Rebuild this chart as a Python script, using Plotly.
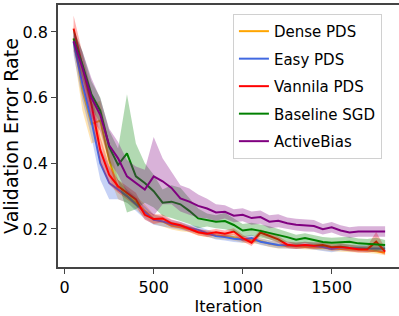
import plotly.graph_objects as go

iterations = [50, 100, 150, 200, 250, 300, 350, 400, 450, 500, 550, 600, 650, 700, 750, 800, 850, 900,
              950, 1000, 1050, 1100, 1150, 1200, 1250, 1300, 1350, 1400, 1450, 1500, 1550, 1600, 1650, 1700, 1750, 1800]

dense_pds = [0.78, 0.62, 0.52, 0.53, 0.41, 0.32, 0.30, 0.28, 0.255, 0.23, 0.222, 0.21, 0.205, 0.20, 0.19, 0.185, 0.18, 0.178,
             0.175, 0.168, 0.165, 0.163, 0.155, 0.15, 0.148, 0.147, 0.146, 0.144, 0.143, 0.14, 0.139, 0.138, 0.136, 0.135, 0.132, 0.128]
dense_std = [0.04, 0.06, 0.06, 0.06, 0.05, 0.03, 0.02, 0.02, 0.02, 0.015, 0.015, 0.012, 0.012, 0.01, 0.01, 0.01, 0.01, 0.01,
             0.01, 0.01, 0.01, 0.01, 0.01, 0.01, 0.008, 0.008, 0.008, 0.008, 0.008, 0.008, 0.008, 0.008, 0.008, 0.008, 0.008, 0.008]

easy_pds = [0.77, 0.64, 0.53, 0.40, 0.34, 0.32, 0.30, 0.275, 0.25, 0.228, 0.223, 0.215, 0.21, 0.203, 0.197, 0.187, 0.178, 0.175,
            0.17, 0.168, 0.172, 0.161, 0.157, 0.151, 0.15, 0.149, 0.151, 0.148, 0.145, 0.139, 0.144, 0.142, 0.14, 0.14, 0.14, 0.14]
easy_std = [0.04, 0.05, 0.05, 0.05, 0.05, 0.03, 0.02, 0.02, 0.02, 0.015, 0.015, 0.012, 0.012, 0.01, 0.01, 0.01, 0.01, 0.01,
            0.01, 0.01, 0.01, 0.01, 0.01, 0.01, 0.01, 0.01, 0.01, 0.01, 0.012, 0.01, 0.01, 0.01, 0.01, 0.01, 0.01, 0.01]

vannila_pds = [0.81, 0.69, 0.58, 0.44, 0.365, 0.33, 0.31, 0.29, 0.243, 0.23, 0.232, 0.217, 0.211, 0.20, 0.19, 0.185, 0.19, 0.185,
               0.192, 0.172, 0.158, 0.189, 0.179, 0.168, 0.152, 0.149, 0.151, 0.149, 0.151, 0.144, 0.146, 0.142, 0.138, 0.138, 0.161, 0.131]
vannila_std = [0.04, 0.04, 0.04, 0.04, 0.03, 0.02, 0.02, 0.02, 0.015, 0.015, 0.012, 0.012, 0.01, 0.01, 0.01, 0.01, 0.01, 0.01,
               0.01, 0.01, 0.01, 0.01, 0.01, 0.01, 0.01, 0.01, 0.01, 0.01, 0.01, 0.01, 0.01, 0.01, 0.01, 0.01, 0.03, 0.01]

baseline_sgd = [0.78, 0.70, 0.61, 0.56, 0.45, 0.395, 0.43, 0.36, 0.34, 0.315, 0.28, 0.283, 0.275, 0.255, 0.232, 0.227, 0.222, 0.224,
                0.212, 0.195, 0.199, 0.194, 0.188, 0.18, 0.175, 0.167, 0.172, 0.166, 0.16, 0.158, 0.159, 0.161, 0.156, 0.154, 0.153, 0.151]
baseline_std = [0.03, 0.04, 0.04, 0.04, 0.05, 0.05, 0.18, 0.10, 0.06, 0.05, 0.04, 0.05, 0.05, 0.04, 0.03, 0.02, 0.02, 0.025,
                0.02, 0.02, 0.02, 0.02, 0.02, 0.02, 0.015, 0.015, 0.015, 0.015, 0.015, 0.015, 0.015, 0.015, 0.015, 0.015, 0.02, 0.015]

active_bias = [0.772, 0.69, 0.60, 0.547, 0.455, 0.415, 0.36, 0.34, 0.32, 0.36, 0.345, 0.325, 0.293, 0.283, 0.27, 0.262, 0.25, 0.252,
               0.24, 0.243, 0.233, 0.236, 0.222, 0.225, 0.217, 0.213, 0.21, 0.209, 0.199, 0.205, 0.195, 0.189, 0.192, 0.191, 0.192, 0.192]
active_std = [0.03, 0.05, 0.06, 0.05, 0.05, 0.05, 0.05, 0.05, 0.06, 0.12, 0.07, 0.05, 0.04, 0.04, 0.035, 0.03, 0.025, 0.02,
              0.02, 0.02, 0.02, 0.02, 0.02, 0.02, 0.018, 0.018, 0.018, 0.018, 0.016, 0.016, 0.016, 0.016, 0.016, 0.016, 0.016, 0.016]

series = [
    ("Dense PDS", dense_pds, dense_std, "#FFA500", "rgba(255,165,0,0.3)"),
    ("Easy PDS", easy_pds, easy_std, "#4169E1", "rgba(65,105,225,0.3)"),
    ("Vannila PDS", vannila_pds, vannila_std, "#FF0000", "rgba(255,0,0,0.3)"),
    ("Baseline SGD", baseline_sgd, baseline_std, "#008000", "rgba(0,128,0,0.3)"),
    ("ActiveBias", active_bias, active_std, "#800080", "rgba(128,0,128,0.3)"),
]

fig = go.Figure()
for name, vals, std, color, fill in series:
    upper = [v + s for v, s in zip(vals, std)]
    lower = [v - s for v, s in zip(vals, std)]
    fig.add_trace(go.Scatter(x=iterations, y=upper, mode="lines", line=dict(width=0),
                             showlegend=False, hoverinfo="skip", legendgroup=name))
    fig.add_trace(go.Scatter(x=iterations, y=lower, mode="lines", line=dict(width=0),
                             fill="tonexty", fillcolor=fill, showlegend=False,
                             hoverinfo="skip", legendgroup=name))
    fig.add_trace(go.Scatter(x=iterations, y=vals, mode="lines", name=name,
                             line=dict(color=color, width=2), legendgroup=name))

axis_font = dict(family="DejaVu Sans", size=16, color="#000")
fig.update_layout(
    width=399, height=316,
    margin=dict(l=58, r=0, t=5, b=49),
    paper_bgcolor="white", plot_bgcolor="white",
    font=dict(family="DejaVu Sans", color="#000"),
    showlegend=True,
    legend=dict(x=0.513, y=0.966, xanchor="left", yanchor="top",
                bgcolor="rgba(255,255,255,0.8)", bordercolor="#d0d0d0", borderwidth=1,
                font=dict(family="DejaVu Sans", size=15, color="#000"),
                tracegroupgap=5),
    xaxis=dict(range=[-37.5, 1878], tickvals=[0, 500, 1000, 1500], ticktext=["0", "500", "1000", "1500"],
               showgrid=False, zeroline=False, showline=True, linecolor="#444", linewidth=1.5, mirror=True,
               ticks="outside", ticklen=5, tickcolor="#444", tickfont=axis_font, automargin=False,
               title=dict(text="Iteration", font=dict(family="DejaVu Sans", size=16, color="#000"), standoff=4)),
    yaxis=dict(range=[0.084, 0.882], tickvals=[0.2, 0.4, 0.6, 0.8], ticktext=["0.2", "0.4", "0.6", "0.8"],
               showgrid=False, zeroline=False, showline=True, linecolor="#444", linewidth=1.5,
               ticks="outside", ticklen=5, tickcolor="#444", tickfont=axis_font, automargin=False,
               title=dict(text="Validation Error Rate", font=dict(family="DejaVu Sans", size=19, color="#000"), standoff=4)),
)

fig.write_html("out.html", config={"displayModeBar": False},
               post_script="document.body.style.margin='0';document.body.style.overflow='hidden';")
